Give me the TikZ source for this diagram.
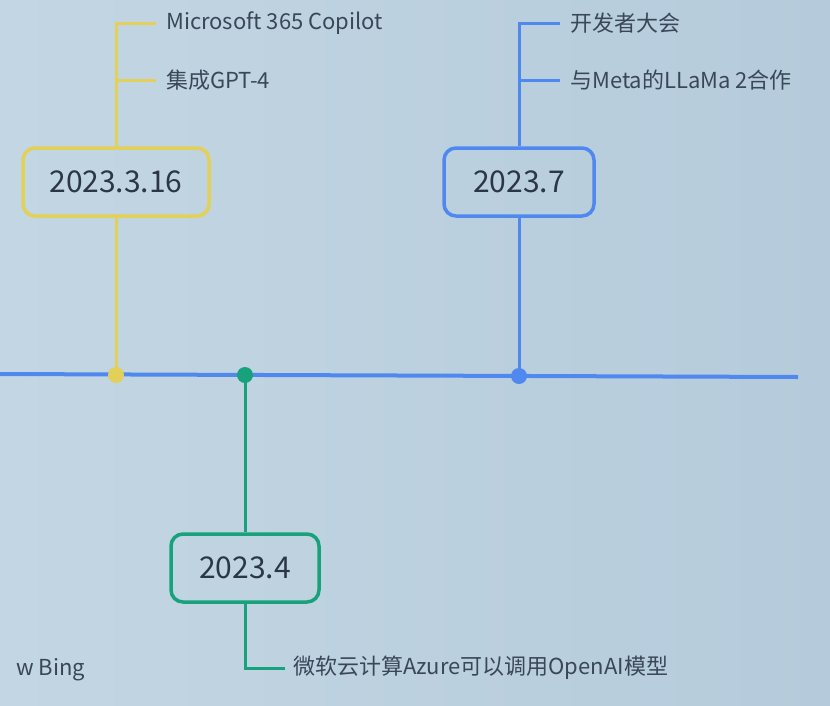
\documentclass[tikz,border=0pt]{standalone}
\usepackage{fontspec}
\setmainfont{Noto Sans CJK SC}
\definecolor{bgA}{HTML}{C3D6E3}
\definecolor{bgB}{HTML}{B5CBDB}
\definecolor{tlblue}{HTML}{4F88EE}
\definecolor{ycol}{HTML}{E2D058}
\definecolor{gcol}{HTML}{17A27C}
\definecolor{txt}{HTML}{2B3746}
\definecolor{ltxt}{HTML}{3A4759}
\tikzset{
  dot/.style={circle, inner sep=0pt, minimum size=16pt},
  datebox/.style={rectangle, rounded corners=12pt, line width=3.5pt, text=txt,
     font=\fontsize{30}{34}\selectfont, minimum height=68pt, inner sep=0pt},
  lbl/.style={anchor=west, text=ltxt, font=\fontsize{22}{26}\selectfont, inner sep=0pt},
  conn/.style={line width=3pt}
}
\begin{document}
\begin{tikzpicture}[x=1pt,y=-1pt]
\useasboundingbox (0,0) rectangle (830,705);
\clip (0,0) rectangle (830,705);
\shade[left color=bgA, right color=bgB] (0,0) rectangle (830,705);

% timeline
\coordinate (t0) at (0,374);
\coordinate (t1) at (798,377);
\draw[tlblue, line width=4pt] (t0) -- (t1);

% nodes
\node[datebox, draw=ycol, minimum width=186pt] (by) at (116,182) {2023.3.16};
\node[datebox, draw=tlblue, minimum width=150pt] (bb) at (519,182) {2023.7};
\node[datebox, draw=gcol, minimum width=148pt] (bg) at (245,568) {2023.4};

\node[lbl] (y1) at (166,23) {Microsoft 365 Copilot};
\node[lbl] (y2) at (166,80) {集成GPT-4};
\node[lbl] (b1) at (570,23) {开发者大会};
\node[lbl] (b2) at (570,80) {与Meta的LLaMa 2合作};
\node[lbl] (g1) at (293,668) {微软云计算Azure可以调用OpenAI模型};
\node[lbl] (nb) at (16,670) {w Bing};

% yellow branch
\draw[ycol, conn] (by.south) -- (116,375);
\draw[ycol, conn] (by.north) |- ([xshift=-10pt]y1.west);
\draw[ycol, conn] (by.north |- y2.west) -- ([xshift=-10pt]y2.west);
\node[dot, fill=ycol] (dy) at (116,375) {};

% blue branch
\draw[tlblue, conn] (bb.south) -- (519,376);
\draw[tlblue, conn] (bb.north) |- ([xshift=-10pt]b1.west);
\draw[tlblue, conn] (bb.north |- b2.west) -- ([xshift=-10pt]b2.west);
\node[dot, fill=tlblue] (db) at (519,376) {};

% green branch
\draw[gcol, conn] (245,375) -- (bg.north);
\draw[gcol, conn] (bg.south) |- ([xshift=-8pt]g1.west);
\node[dot, fill=gcol] (dg) at (245,375) {};
\end{tikzpicture}
\end{document}
